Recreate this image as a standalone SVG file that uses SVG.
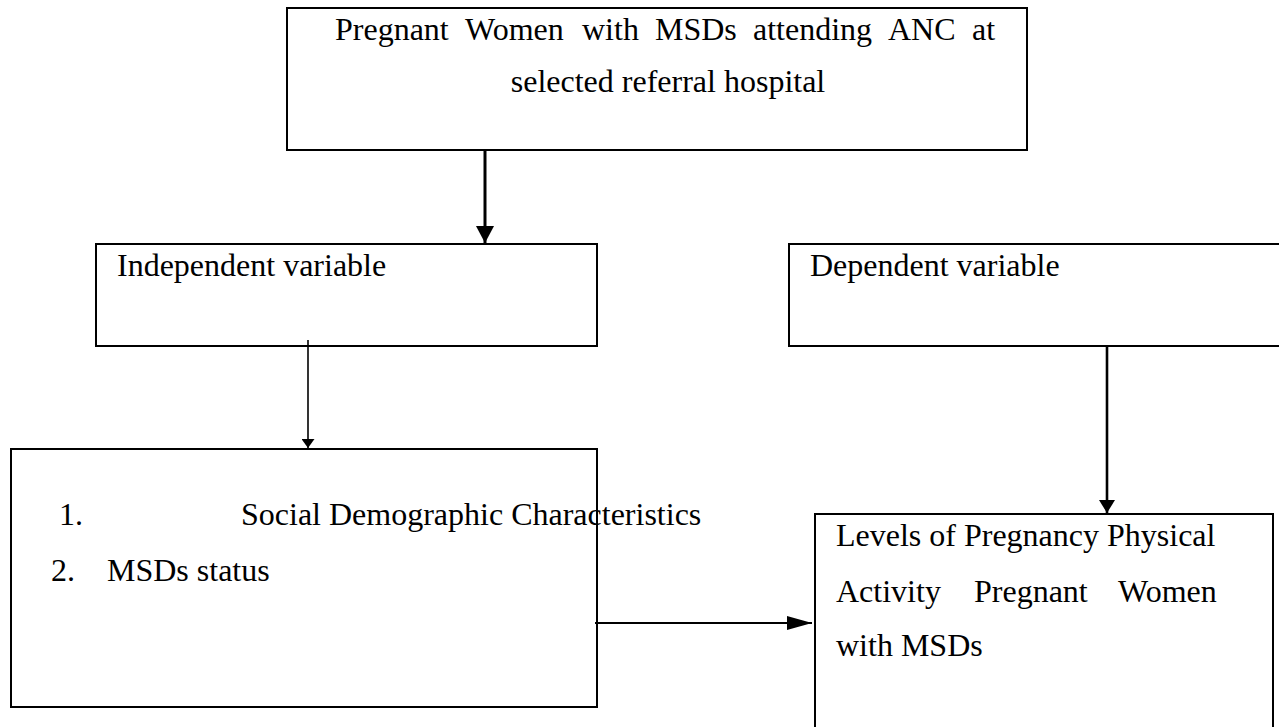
<svg xmlns="http://www.w3.org/2000/svg" width="1279" height="727" viewBox="0 0 1279 727">
<style>
.box{fill:#fff;stroke:#000;stroke-width:2}
.t{font-family:"Liberation Serif","Times New Roman",serif;font-size:32px;fill:#000}
.ln{stroke:#000;fill:none}
</style>
<defs>
<marker id="hBig" markerUnits="userSpaceOnUse" markerWidth="18" markerHeight="18" viewBox="0 0 18 18" refX="17" refY="9" orient="auto"><path d="M0,0 L17,9 L0,18 Z" fill="#000"/></marker>
<marker id="hSmall" markerUnits="userSpaceOnUse" markerWidth="10" markerHeight="13" viewBox="0 0 10 13" refX="9" refY="6.5" orient="auto"><path d="M0,0 L9,6.5 L0,13 Z" fill="#000"/></marker>
<marker id="hMid" markerUnits="userSpaceOnUse" markerWidth="14" markerHeight="16" viewBox="0 0 14 16" refX="13" refY="8" orient="auto"><path d="M0,0 L13,8 L0,16 Z" fill="#000"/></marker>
<marker id="hLong" markerUnits="userSpaceOnUse" markerWidth="26" markerHeight="14" viewBox="0 0 26 14" refX="25" refY="7" orient="auto"><path d="M0,0 L25,7 L0,14 Z" fill="#000"/></marker>
</defs>
<rect width="1279" height="727" fill="#fff"/>
<g id="population">
<rect class="box" x="287" y="8" width="740" height="142"/>
<text class="t" y="40"><tspan x="335">Pregnant</tspan><tspan x="465">Women</tspan><tspan x="582">with</tspan><tspan x="655">MSDs</tspan><tspan x="753">attending</tspan><tspan x="888">ANC</tspan><tspan x="972">at</tspan></text>
<text class="t" x="668" y="92" text-anchor="middle">selected referral hospital</text>
</g>
<g id="independent">
<rect class="box" x="96" y="244" width="501" height="102"/>
<text class="t" x="117" y="276">Independent variable</text>
</g>
<g id="dependent">
<rect class="box" x="789" y="244" width="500" height="102"/>
<text class="t" x="810" y="276">Dependent variable</text>
</g>
<g id="characteristics">
<rect class="box" x="11" y="449" width="586" height="258"/>
<text class="t" x="59" y="525">1.</text>
<text class="t" x="241" y="525">Social Demographic Characteristics</text>
<text class="t" x="51" y="581">2.</text>
<text class="t" x="107" y="581">MSDs status</text>
</g>
<g id="outcome">
<rect class="box" x="815" y="514" width="458" height="230"/>
<text class="t" x="836" y="546">Levels of Pregnancy Physical</text>
<text class="t" y="602"><tspan x="836">Activity</tspan><tspan x="974">Pregnant</tspan><tspan x="1118">Women</tspan></text>
<text class="t" x="836" y="656">with MSDs</text>
</g>
<g id="connectors">
<line class="ln" x1="485" y1="150" x2="485" y2="243" stroke-width="3" marker-end="url(#hBig)"/>
<line class="ln" x1="308" y1="340" x2="308" y2="448" stroke-width="1.6" marker-end="url(#hSmall)"/>
<line class="ln" x1="1107" y1="345" x2="1107" y2="513" stroke-width="2.6" marker-end="url(#hMid)"/>
<line class="ln" x1="595" y1="623" x2="812" y2="623" stroke-width="2" marker-end="url(#hLong)"/>
</g>
</svg>
